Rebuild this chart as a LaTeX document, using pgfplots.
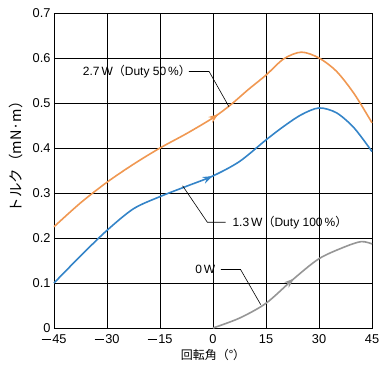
\documentclass[border=0pt]{standalone}
\usepackage{fontspec}
\setmainfont{Liberation Sans}
\newfontfamily\jp{Noto Sans CJK JP}
\usepackage{pgfplots}
\pgfplotsset{compat=1.18}
\usetikzlibrary{decorations.markings,arrows.meta}
\definecolor{corange}{RGB}{240,152,82}
\definecolor{cblue}{RGB}{52,132,200}
\definecolor{cgray}{RGB}{150,150,150}
\newcommand{\mn}{\rule[0.31em]{0.78em}{0.06em}\hspace{0.06em}}
\tikzset{arr/.style={postaction={decorate},decoration={markings,mark=at position #1 with {\arrow{Stealth[length=10pt,width=7pt]}}}}}
\begin{document}
\begin{tikzpicture}
\begin{axis}[
  scale only axis, width=318pt, height=315pt,
  xmin=-45, xmax=45, ymin=0, ymax=0.7,
  xtick={-45,-30,-15,0,15,30,45},
  xticklabels={\mn45,\mn30,\mn15,0,15,30,45},
  ytick={0,0.1,...,0.7},
  yticklabels={0,0.1,0.2,0.3,0.4,0.5,0.6,0.7},
  grid=major, major grid style={black, line width=0.8pt},
  axis line style={black, line width=0.8pt},
  major tick length=0pt,
  tick label style={font=\fontsize{12.8}{14}\selectfont},
  xticklabel style={yshift=-3pt},
  /pgf/number format/assume math mode=true,
  xlabel={\jp 回転角（°）},
  ylabel={\jp トルク（mN·m）},
  xlabel style={font=\fontsize{12}{14}\selectfont, at={(axis description cs:0.5,-0.086)}, anchor=center},
  ylabel style={font=\fontsize{14.5}{16}\selectfont, at={(axis description cs:-0.12,0.356)}, anchor=west},
  clip=false,
]
\addplot[corange, line width=1.6pt, smooth, arr=0.49] coordinates {
(-45,0.225) (-37.5,0.278) (-30,0.324) (-22.5,0.364) (-15,0.400) (-7.5,0.432)
(0,0.467) (5,0.496) (10,0.530) (15,0.562) (20,0.598) (25,0.613) (30,0.600)
(35,0.570) (40,0.520) (45,0.456)};
\addplot[cblue, line width=1.6pt, smooth, arr=0.495] coordinates {
(-45,0.100) (-37.5,0.160) (-30,0.217) (-22.5,0.265) (-15,0.292) (-7.5,0.315)
(0,0.338) (7.5,0.370) (15,0.418) (20,0.448) (25,0.474) (30,0.489)
(35,0.478) (40,0.444) (45,0.392)};
\addplot[cgray, line width=1.6pt, smooth, arr=0.52] coordinates {
(0,0) (7.5,0.022) (15,0.055) (22.5,0.107) (30,0.154) (37.5,0.181) (42,0.192) (45,0.187)};
\draw[black, line width=0.6pt] (axis cs:-6.8,0.570) -- (axis cs:-1.1,0.570) -- (axis cs:4.5,0.492);
\node[anchor=east, inner sep=0pt, font=\fontsize{12}{14}\selectfont] at (axis cs:-6.2,0.570) {2.7\,W{\jp（}Duty 50\,\%{\jp）}};
\draw[black, line width=0.6pt] (axis cs:-8.6,0.316) -- (axis cs:-1.6,0.235) -- (axis cs:3.6,0.235);
\node[anchor=west, inner sep=1pt, font=\fontsize{12}{14}\selectfont] at (axis cs:5.2,0.235) {1.3\,W{\jp（}Duty 100\,\%{\jp）}};
\draw[black, line width=0.6pt] (axis cs:2.2,0.130) -- (axis cs:7.8,0.130) -- (axis cs:13.5,0.052);
\node[anchor=east, inner sep=1pt, font=\fontsize{12}{14}\selectfont] at (axis cs:1.0,0.130) {0\,W};
\end{axis}
\pgfresetboundingbox
\path (-54pt,-48pt) rectangle (334pt,328pt);
\end{tikzpicture}
\end{document}
